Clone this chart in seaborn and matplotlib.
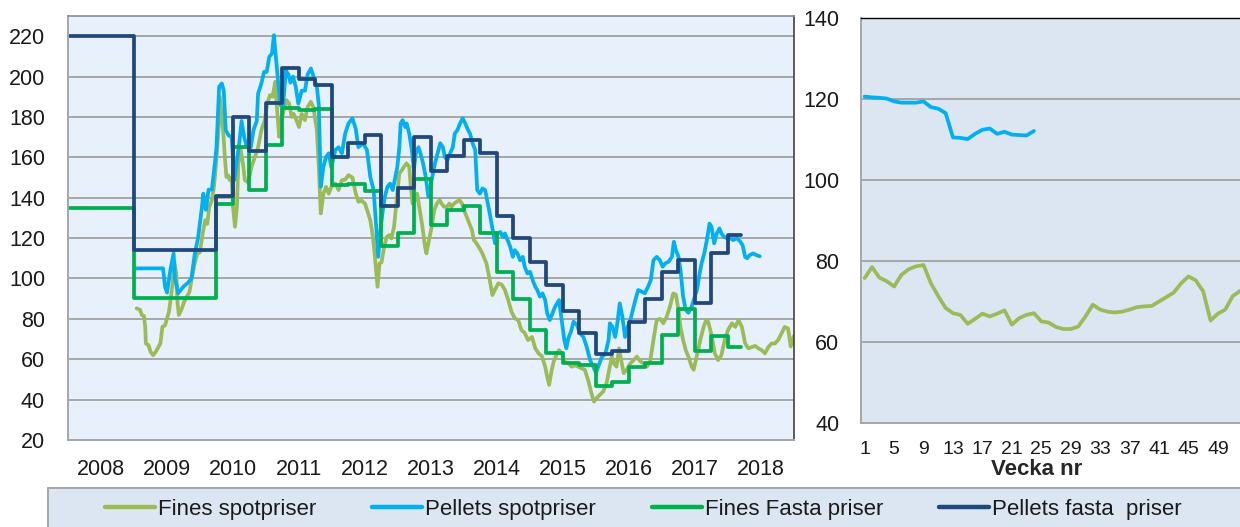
import matplotlib
matplotlib.use("Agg")
import matplotlib.pyplot as plt
import seaborn as sns
from matplotlib.patches import Rectangle
from matplotlib.lines import Line2D

# ---------------- data ----------------
# weekly spot prices, x in decimal years
fines_spot_year = [
    2009.04, 2009.09, 2009.12, 2009.15, 2009.17, 2009.18, 2009.22, 2009.25, 2009.29, 2009.33,
    2009.37, 2009.40, 2009.43, 2009.47, 2009.50, 2009.53, 2009.56, 2009.59, 2009.61, 2009.64,
    2009.66, 2009.68, 2009.72, 2009.76, 2009.80, 2009.84, 2009.87, 2009.92, 2009.96, 2010.00,
    2010.04, 2010.08, 2010.11, 2010.14, 2010.18, 2010.21, 2010.24, 2010.28, 2010.30, 2010.33,
    2010.35, 2010.38, 2010.40, 2010.43, 2010.45, 2010.48, 2010.50, 2010.53, 2010.56, 2010.58,
    2010.61, 2010.65, 2010.68, 2010.73, 2010.78, 2010.83, 2010.88, 2010.93, 2010.98, 2011.02,
    2011.06, 2011.10, 2011.14, 2011.16, 2011.20, 2011.23, 2011.27, 2011.31, 2011.35, 2011.39,
    2011.42, 2011.46, 2011.50, 2011.54, 2011.59, 2011.63, 2011.68, 2011.72, 2011.77, 2011.80,
    2011.83, 2011.87, 2011.91, 2011.95, 2011.99, 2012.05, 2012.10, 2012.15, 2012.20, 2012.25,
    2012.31, 2012.36, 2012.40, 2012.45, 2012.50, 2012.58, 2012.62, 2012.65, 2012.69, 2012.72,
    2012.75, 2012.79, 2012.83, 2012.87, 2012.90, 2012.94, 2012.98, 2013.02, 2013.06, 2013.09,
    2013.13, 2013.17, 2013.19, 2013.22, 2013.26, 2013.29, 2013.33, 2013.37, 2013.41, 2013.43,
    2013.47, 2013.51, 2013.55, 2013.59, 2013.63, 2013.66, 2013.70, 2013.74, 2013.78, 2013.81,
    2013.85, 2013.89, 2013.93, 2013.97, 2014.00, 2014.04, 2014.08, 2014.12, 2014.15, 2014.19,
    2014.27, 2014.34, 2014.39, 2014.43, 2014.47, 2014.52, 2014.57, 2014.62, 2014.67, 2014.72,
    2014.77, 2014.82, 2014.87, 2014.92, 2014.97, 2015.03, 2015.08, 2015.13, 2015.18, 2015.23,
    2015.26, 2015.29, 2015.33, 2015.36, 2015.40, 2015.44, 2015.48, 2015.53, 2015.58, 2015.63,
    2015.68, 2015.73, 2015.78, 2015.83, 2015.88, 2015.93, 2015.97, 2016.01, 2016.06, 2016.11,
    2016.16, 2016.20, 2016.24, 2016.27, 2016.31, 2016.35, 2016.39, 2016.42, 2016.46, 2016.52,
    2016.57, 2016.62, 2016.67, 2016.72, 2016.77, 2016.82, 2016.87, 2016.92, 2016.97, 2017.02,
    2017.07, 2017.12, 2017.17, 2017.21, 2017.25, 2017.28, 2017.32, 2017.36, 2017.40, 2017.45,
    2017.48, 2017.53, 2017.58, 2017.63, 2017.67, 2017.70, 2017.75, 2017.80, 2017.85, 2017.90,
    2017.95, 2018.00, 2018.06, 2018.11, 2018.16, 2018.21, 2018.26, 2018.31, 2018.36, 2018.41,
    2018.46, 2018.51, 2018.56, 2018.61, 2018.66, 2018.71, 2018.76, 2018.81, 2018.86, 2018.91,
    2018.95, 2018.99, 2019.03,
]
fines_spot_val = [
    85.2, 84.5, 81.9, 81.5, 76.0, 67.8, 67.0, 63.7, 62.0, 63.7,
    66.0, 67.8, 76.0, 76.8, 80.2, 83.5, 91.0, 99.2, 108.3, 102.5,
    87.7, 81.9, 84.7, 88.5, 91.0, 93.4, 99.0, 107.5, 112.4, 113.0,
    122.3, 128.9, 127.0, 135.5, 138.8, 145.0, 155.3, 173.5, 190.0, 180.0,
    173.5, 158.6, 150.3, 151.0, 148.7, 150.0, 135.5, 125.6, 135.5, 157.0,
    165.0, 157.0, 148.7, 147.5, 155.3, 160.0, 165.0, 173.5, 178.4, 186.7,
    190.8, 190.0, 197.4, 186.7, 170.2, 178.4, 183.4, 188.3, 186.7, 180.0,
    181.5, 178.4, 175.0, 181.5, 178.4, 185.0, 187.5, 184.5, 173.5, 155.3,
    132.2, 142.0, 145.4, 142.0, 145.4, 147.0, 143.8, 148.7, 149.0, 151.2,
    150.0, 142.0, 138.0, 138.5, 137.1, 128.9, 120.6, 110.7, 95.9, 107.5,
    108.0, 115.7, 120.6, 121.5, 119.8, 125.6, 138.8, 152.0, 153.7, 155.3,
    157.0, 155.3, 147.0, 137.1, 138.8, 142.0, 133.9, 125.6, 115.7, 112.4,
    119.0, 125.6, 133.9, 137.1, 138.8, 137.1, 135.5, 135.5, 137.1, 135.5,
    137.1, 138.0, 138.8, 137.1, 133.9, 130.6, 127.3, 124.0, 119.0, 117.4,
    113.0, 107.5, 99.2, 91.8, 94.5, 97.6, 97.0, 94.3, 89.3, 83.5,
    80.2, 79.5, 74.5, 73.0, 69.5, 71.0, 65.4, 62.9, 61.5, 56.3,
    51.4, 47.3, 54.8, 59.0, 62.0, 64.5, 63.0, 58.8, 58.0, 56.3,
    57.0, 56.3, 55.5, 54.8, 49.8, 43.2, 39.0, 40.8, 42.4, 44.0,
    48.2, 54.8, 61.3, 58.0, 56.3, 65.4, 58.0, 53.1, 54.5, 58.0,
    59.5, 61.3, 59.0, 58.0, 56.3, 58.8, 69.5, 79.4, 80.0, 77.8,
    81.0, 86.0, 92.6, 92.0, 84.4, 76.0, 69.5, 64.5, 61.3, 56.3,
    54.8, 62.0, 69.5, 76.0, 79.4, 78.6, 72.0, 62.9, 59.6, 62.0,
    69.5, 74.5, 77.8, 76.0, 79.4, 76.0, 67.8, 65.4, 66.0, 66.6,
    65.4, 64.5, 62.9, 66.0, 67.8, 67.8, 69.5, 72.8, 76.0, 75.2,
    66.3, 71.0, 72.8,
]

pellets_spot_year = [
    2009.04, 2009.44, 2009.47, 2009.50, 2009.55, 2009.60, 2009.62, 2009.67, 2009.75, 2009.82,
    2009.87, 2009.92, 2009.97, 2010.03, 2010.05, 2010.09, 2010.13, 2010.18, 2010.23, 2010.25,
    2010.29, 2010.33, 2010.36, 2010.39, 2010.43, 2010.48, 2010.52, 2010.56, 2010.60, 2010.63,
    2010.67, 2010.71, 2010.77, 2010.81, 2010.86, 2010.88, 2010.93, 2010.97, 2011.01, 2011.05,
    2011.09, 2011.12, 2011.15, 2011.19, 2011.22, 2011.26, 2011.30, 2011.34, 2011.37, 2011.41,
    2011.45, 2011.49, 2011.54, 2011.59, 2011.63, 2011.68, 2011.72, 2011.77, 2011.80, 2011.83,
    2011.87, 2011.91, 2011.95, 2011.99, 2012.05, 2012.10, 2012.15, 2012.20, 2012.25, 2012.31,
    2012.36, 2012.40, 2012.47, 2012.53, 2012.58, 2012.63, 2012.67, 2012.70, 2012.74, 2012.77,
    2012.80, 2012.84, 2012.88, 2012.92, 2012.95, 2012.99, 2013.02, 2013.04, 2013.07, 2013.11,
    2013.13, 2013.17, 2013.21, 2013.24, 2013.27, 2013.31, 2013.34, 2013.38, 2013.42, 2013.46,
    2013.50, 2013.53, 2013.56, 2013.60, 2013.64, 2013.68, 2013.71, 2013.75, 2013.79, 2013.83,
    2013.86, 2013.90, 2013.94, 2013.98, 2014.02, 2014.05, 2014.09, 2014.13, 2014.17, 2014.20,
    2014.24, 2014.28, 2014.32, 2014.35, 2014.39, 2014.43, 2014.47, 2014.50, 2014.55, 2014.59,
    2014.62, 2014.66, 2014.70, 2014.74, 2014.77, 2014.81, 2014.85, 2014.89, 2014.92, 2014.96,
    2015.00, 2015.04, 2015.08, 2015.11, 2015.15, 2015.19, 2015.23, 2015.26, 2015.30, 2015.34,
    2015.38, 2015.41, 2015.44, 2015.48, 2015.52, 2015.55, 2015.58, 2015.62, 2015.66, 2015.71,
    2015.76, 2015.81, 2015.86, 2015.91, 2015.96, 2016.00, 2016.03, 2016.09, 2016.14, 2016.19,
    2016.21, 2016.25, 2016.29, 2016.32, 2016.36, 2016.40, 2016.44, 2016.47, 2016.52, 2016.57,
    2016.61, 2016.64, 2016.69, 2016.74, 2016.79, 2016.83, 2016.87, 2016.92, 2016.97, 2017.01,
    2017.05, 2017.10, 2017.15, 2017.18, 2017.21, 2017.25, 2017.28, 2017.32, 2017.36, 2017.40,
    2017.45, 2017.48, 2017.53, 2017.57, 2017.60, 2017.64, 2017.68, 2017.72, 2017.75, 2017.79,
    2017.83, 2017.87, 2017.90, 2017.94, 2017.98, 2018.03, 2018.08, 2018.13, 2018.18, 2018.22,
    2018.26, 2018.29, 2018.33, 2018.38, 2018.43, 2018.48,
]
pellets_spot_val = [
    105.0, 105.0, 96.0, 93.0, 104.0, 112.4, 100.0, 92.7, 96.0, 98.0,
    100.0, 112.0, 120.0, 135.5, 142.0, 134.0, 144.0, 144.0, 158.6, 165.0,
    195.0, 196.6, 193.0, 173.5, 171.0, 170.0, 148.7, 158.6, 168.5, 178.0,
    170.0, 165.0, 165.0, 173.5, 178.0, 191.6, 196.6, 202.3, 202.3, 209.8,
    211.4, 220.5, 209.8, 195.0, 185.8, 185.8, 203.0, 201.0, 197.0, 200.0,
    195.0, 186.6, 193.0, 193.0, 201.0, 204.0, 200.0, 195.0, 186.0, 145.4,
    155.3, 160.2, 162.0, 155.0, 163.6, 165.0, 162.0, 171.8, 176.8, 179.3,
    174.0, 165.0, 167.0, 163.6, 150.3, 143.8, 125.6, 110.7, 125.6, 133.9,
    140.4, 145.4, 147.0, 143.8, 148.7, 155.3, 165.0, 176.8, 178.4, 175.0,
    176.8, 171.8, 163.6, 153.7, 162.0, 165.0, 162.0, 157.0, 150.3, 140.4,
    147.0, 152.0, 157.0, 162.0, 167.0, 165.0, 160.2, 158.6, 162.0, 165.0,
    171.8, 173.5, 176.8, 179.3, 176.8, 174.3, 171.8, 167.0, 163.6, 143.8,
    142.0, 144.6, 143.8, 138.8, 132.2, 124.8, 117.4, 122.3, 123.0, 120.5,
    122.3, 119.0, 115.7, 110.7, 114.0, 112.4, 109.0, 110.7, 105.8, 102.5,
    103.3, 99.2, 95.9, 94.3, 91.0, 92.6, 89.3, 82.7, 79.4, 82.7,
    86.0, 87.6, 89.3, 79.4, 69.5, 65.4, 70.3, 73.6, 78.6, 77.0,
    72.8, 71.0, 66.0, 59.6, 56.3, 53.3, 56.0, 61.3, 62.5, 69.5,
    77.8, 76.0, 71.0, 77.0, 87.7, 81.0, 71.0, 75.0, 79.4, 86.0,
    91.0, 94.3, 93.5, 92.7, 96.0, 99.2, 109.0, 110.7, 109.0, 105.8,
    107.5, 108.3, 110.7, 118.2, 114.0, 110.7, 104.2, 91.0, 84.4, 83.0,
    86.0, 89.3, 94.3, 102.5, 107.5, 112.4, 119.0, 127.2, 125.6, 117.4,
    122.3, 124.8, 122.3, 120.6, 120.0, 120.0, 119.0, 120.0, 118.5, 116.6,
    110.7, 110.0, 111.6, 112.4, 111.6, 111.0,
]

# fixed (quarterly) prices: start of each period, last entry closes the line
fines_fixed_year = [
    2008.0, 2009.0, 2010.25, 2010.5, 2010.75, 2011.0, 2011.25, 2011.5, 2011.75, 2012.0,
    2012.25, 2012.5, 2012.75, 2013.0, 2013.25, 2013.5, 2013.75, 2014.0, 2014.25, 2014.5,
    2014.75, 2015.0, 2015.25, 2015.5, 2015.75, 2016.0, 2016.25, 2016.5, 2016.75, 2017.0,
    2017.25, 2017.5, 2017.75, 2018.0, 2018.2,
]
fines_fixed_val = [
    135, 90.5, 137, 165, 144, 166, 184.5, 183.5, 184, 146.5,
    147, 143.5, 116, 122.5, 149.5, 126.5, 134, 136, 122.5, 103,
    90, 74.5, 63, 58.3, 57, 46.5, 48.5, 56, 58, 72,
    85, 64, 71.5, 66, 66,
]
pellets_fixed_year = fines_fixed_year
pellets_fixed_val = [
    220, 114, 141, 180, 163, 187, 204, 199, 196, 160,
    167, 171, 136, 145, 170, 153, 160.5, 168.5, 162, 131,
    120, 108, 97, 84, 73, 62.5, 64, 78.5, 90, 103,
    109, 88, 112.5, 121.5, 121.5,
]

# 2018 weekly panel
weeks = list(range(1, 53))
fines_week_val = [
    75.8, 78.5, 75.9, 75.0, 73.7, 76.6, 78.0, 78.7, 79.0, 74.5,
    71.3, 68.4, 67.1, 66.7, 64.5, 65.7, 67.0, 66.3, 67.0, 67.8,
    64.3, 65.9, 66.7, 67.1, 65.1, 64.8, 63.7, 63.2, 63.2, 63.8,
    66.3, 69.2, 68.0, 67.5, 67.3, 67.5, 68.0, 68.6, 68.8, 68.9,
    70.0, 71.1, 72.2, 74.5, 76.2, 75.2, 72.5, 65.3, 67.0, 68.0,
    71.3, 72.6,
]
pellets_week_val = [
    120.6, 120.4, 120.3, 120.1, 119.4, 119.1, 119.1, 119.1, 119.4, 118.0,
    117.6, 116.5, 110.5, 110.4, 110.1, 111.4, 112.4, 112.7, 111.4, 111.9,
    111.2, 111.1, 111.0, 112.1,
]

year_labels = [str(y) for y in range(2008, 2019)]
week_labels = [str(w) if (w - 1) % 4 == 0 else "" for w in weeks]

series_labels = ["Fines spotpriser", "Pellets spotpriser", "Fines Fasta priser", "Pellets fasta  priser"]
OLIVE, SKY, GREEN, NAVY = "#9BBB59", "#00B0F0", "#00B050", "#1F497D"

# ---------------- figure ----------------
sns.set_style("white")
plt.rcParams["font.family"] = ["Liberation Sans", "DejaVu Sans"]
plt.rcParams["text.color"] = "#1A1A1A"
plt.rcParams["xtick.color"] = "#1A1A1A"
plt.rcParams["ytick.color"] = "#1A1A1A"

W, H = 1240, 527
fig = plt.figure(figsize=(W / 100, H / 100), dpi=100)
ax = fig.add_axes([68 / W, 1 - 440 / H, (794 - 68) / W, (440 - 16) / H])
ax2 = fig.add_axes([861 / W, 1 - 423 / H, (W - 861) / W, (423 - 18) / H])

GRID = "#A6A6A6"
LW = 2.7

# left panel
sns.lineplot(x=fines_spot_year, y=fines_spot_val, ax=ax, color=OLIVE, lw=LW,
             estimator=None, sort=False, legend=False)
sns.lineplot(x=pellets_spot_year, y=pellets_spot_val, ax=ax, color=SKY, lw=LW,
             estimator=None, sort=False, legend=False)
sns.lineplot(x=fines_fixed_year, y=fines_fixed_val, ax=ax, color=GREEN, lw=LW,
             estimator=None, sort=False, legend=False, drawstyle="steps-post")
sns.lineplot(x=pellets_fixed_year, y=pellets_fixed_val, ax=ax, color=NAVY, lw=LW,
             estimator=None, sort=False, legend=False, drawstyle="steps-post")

ax.set_xlim(2008, 2019)
ax.set_ylim(20, 230)
ax.set_facecolor("#E8F1FB")
ax.set_yticks(range(20, 221, 20))
ax.yaxis.grid(True, color=GRID, lw=1.4)
ax.set_axisbelow(True)
ax.set_xticks(range(2008, 2020))
ax.set_xticklabels([])
ax.set_xticks([y + 0.5 for y in range(2008, 2019)], minor=True)
ax.set_xticklabels(year_labels, minor=True)
ax.tick_params(axis="x", which="major", direction="out", length=7, width=1.4, color=GRID)
ax.tick_params(axis="x", which="minor", length=0, pad=13.5, labelsize=15.5)
ax.tick_params(axis="y", direction="out", length=6, width=1.4, color=GRID, pad=10.5, labelsize=15.5)
for side in ["left", "bottom"]:
    ax.spines[side].set_color(GRID)
    ax.spines[side].set_linewidth(1.4)
ax.spines["top"].set_color("#8C8C8C")
ax.spines["top"].set_linewidth(1.2)
ax.spines["right"].set_color("#404040")
ax.spines["right"].set_linewidth(1.2)
ax.set_xlabel("")
ax.set_ylabel("")

# right panel
sns.lineplot(x=weeks, y=fines_week_val, ax=ax2, color=OLIVE, lw=LW,
             estimator=None, sort=False, legend=False)
sns.lineplot(x=weeks[:len(pellets_week_val)], y=pellets_week_val, ax=ax2, color=SKY, lw=LW,
             estimator=None, sort=False, legend=False)
ax2.set_xlim(0.5, 51.7)
ax2.set_ylim(40, 140)
ax2.set_facecolor("#DCE6F2")
ax2.set_yticks(range(40, 141, 20))
ax2.yaxis.grid(True, color=GRID, lw=1.4)
ax2.set_axisbelow(True)
ax2.set_xticks(weeks)
ax2.set_xticklabels(week_labels)
ax2.tick_params(axis="x", direction="inout", length=10, width=1.3, color=GRID, pad=8, labelsize=14)
ax2.tick_params(axis="y", direction="out", length=7, width=1.4, color=GRID, pad=8.5, labelsize=15.5)
for side in ["left", "bottom"]:
    ax2.spines[side].set_color(GRID)
    ax2.spines[side].set_linewidth(1.4)
ax2.spines["top"].set_color("#000000")
ax2.spines["top"].set_linewidth(1.0)
ax2.spines["right"].set_visible(False)
ax2.set_ylabel("")
ax2.set_xlabel("Vecka nr", fontsize=16, fontweight="bold")
ax2.xaxis.set_label_coords((1037 - 861) / (W - 861), (423 - 459) / (423 - 18))

# legend band at the bottom
fig.patches.append(Rectangle((48 / W, -0.01), 1.0, (527 - 488) / H + 0.01,
                             transform=fig.transFigure, facecolor="#DCE6F2",
                             edgecolor=GRID, lw=1.4, zorder=0))
handles = [Line2D([], [], color=c, lw=3.2) for c in (OLIVE, SKY, GREEN, NAVY)]
fig.legend(handles, series_labels, loc="center left", bbox_to_anchor=(105 / W, 1 - 509 / H),
           ncol=4, frameon=False, fontsize=16, handlelength=2.25, handletextpad=0.15,
           columnspacing=2.5, borderpad=0, borderaxespad=0)

fig.savefig("out.png", dpi=100)
